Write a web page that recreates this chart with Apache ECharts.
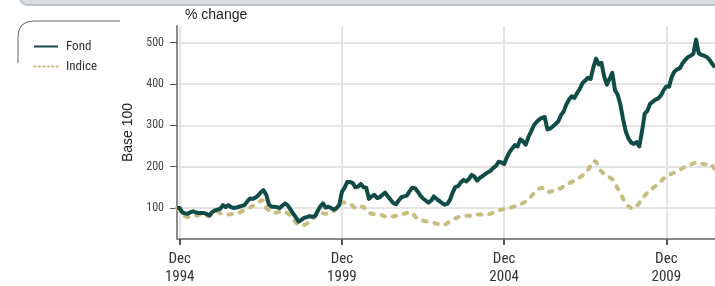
<!DOCTYPE html>
<html>
<head>
<meta charset="utf-8">
<script src="https://cdn.jsdelivr.net/npm/echarts@6/dist/echarts.min.js"></script>
<style>
  html, body { margin: 0; padding: 0; background: #fff; }
  #chart { width: 715px; height: 286px; }
</style>
</head>
<body>
<div id="chart"></div>
<script>
// monthly points, first one is Nov 1994
var startYear = 1994, startMonth = 11;
var fond = [
  100, 100, 89, 87, 86, 90, 92, 89, 88, 88, 88, 85, 82, 90, 94, 96, 98, 107, 102, 107,
  102, 100, 101, 103, 105, 107, 116, 123, 122, 125, 130, 138, 143, 132, 108, 103, 103, 102, 100, 106,
  111, 106, 96, 86, 77, 67, 71, 76, 78, 80, 79, 80, 92, 104, 111, 101, 103, 100, 96, 100,
  107, 139, 149, 163, 163, 160, 150, 152, 158, 150, 149, 122, 128, 132, 124, 126, 132, 137, 128, 120,
  112, 109, 118, 126, 128, 130, 140, 149, 148, 140, 130, 123, 118, 113, 118, 128, 122, 117, 112, 108,
  110, 120, 138, 151, 153, 162, 168, 164, 170, 180, 176, 166, 173, 177, 182, 186, 190, 197, 202, 212,
  210, 206, 222, 235, 244, 252, 249, 266, 261, 253, 272, 285, 300, 308, 314, 318, 320, 290, 292, 297,
  303, 309, 324, 333, 350, 362, 370, 366, 378, 388, 402, 408, 415, 412, 440, 461, 447, 451, 418, 398,
  412, 427, 385, 374, 350, 315, 285, 268, 258, 255, 259, 249, 285, 328, 335, 352, 357, 362, 365, 372,
  385, 394, 393, 417, 430, 435, 438, 450, 458, 465, 468, 473, 507, 474, 470, 468, 465, 458, 448, 440
];
var indice = [
  100, 92, 85, 80, 78, 79, 80, 81, 83, 84, 82, 81, 80, 85, 90, 91, 87, 85, 84, 84,
  85, 86, 87, 89, 92, 95, 98, 101, 105, 108, 112, 118, 118, 100, 94, 90, 88, 89, 91, 92,
  90, 87, 82, 72, 65, 60, 57, 59, 62, 66, 72, 80, 86, 88, 87, 86, 86, 88, 92, 98,
  108, 114, 113, 112, 111, 105, 99, 100, 103, 103, 95, 88, 86, 85, 84, 84, 82, 79, 77, 78,
  80, 81, 83, 85, 86, 88, 90, 89, 80, 74, 71, 69, 68, 67, 66, 64, 62, 60, 59, 59,
  63, 68, 71, 75, 78, 79, 80, 81, 81, 82, 83, 84, 84, 84, 84, 84, 86, 89, 92, 94,
  96, 97, 98, 99, 102, 104, 106, 109, 112, 116, 122, 128, 136, 142, 147, 149, 143, 138, 139, 141,
  143, 145, 148, 152, 156, 160, 163, 167, 171, 174, 179, 185, 192, 203, 214, 212, 197, 188, 182, 179,
  174, 170, 160, 147, 136, 122, 112, 104, 100, 98, 104, 112, 122, 130, 137, 143, 148, 153, 159, 165,
  171, 177, 180, 183, 185, 188, 192, 196, 200, 202, 205, 208, 210, 210, 207, 206, 206, 208, 202, 194
];
var tickMonths = ['1994-12', '1999-12', '2004-12', '2009-12'];
var yTicks = [100, 200, 300, 400, 500];

var months = [];
for (var i = 0; i < fond.length; i++) {
  var m = startMonth - 1 + i;
  var y = startYear + Math.floor(m / 12);
  var mm = (m % 12) + 1;
  months.push(y + '-' + (mm < 10 ? '0' + mm : mm));
}
function isTick(idx, val) { return tickMonths.indexOf(val) >= 0; }

var narrow = '"Liberation Sans Narrow", "Roboto Condensed", Roboto, sans-serif';
var boxLine = { stroke: '#666', lineWidth: 1, fill: 'none' };
var chart = echarts.init(document.getElementById('chart'), null, { renderer: 'canvas' });
var option = {
  backgroundColor: '#ffffff',
  animation: false,
  grid: { left: 177, right: 0, top: 26, bottom: 35 },
  legend: {
    orient: 'vertical',
    left: 28, top: 35,
    itemWidth: 24, itemHeight: 10, itemGap: 7,
    itemStyle: { opacity: 0 },
    textStyle: { fontFamily: narrow, fontSize: 13, color: '#333', padding: [0, 0, 0, 3] },
    data: [
      { name: 'Fond', lineStyle: { width: 2 } },
      { name: 'Indice', lineStyle: { width: 2, type: [1.5, 3] } }
    ]
  },
  graphic: [
    { type: 'rect', shape: { x: 20, y: -10, width: 710, height: 15, r: 8 },
      style: { fill: '#dadde0', stroke: '#aeb4b9', lineWidth: 1.5 } },
    { type: 'line', shape: { x1: 34, y1: 21, x2: 120, y2: 21 }, style: boxLine },
    { type: 'line', shape: { x1: 18, y1: 37, x2: 18, y2: 63 }, style: boxLine },
    { type: 'bezierCurve', shape: { x1: 18, y1: 37, cpx1: 18, cpy1: 21, x2: 34, y2: 21 }, style: boxLine },
    { type: 'text', x: 185, y: 8,
      style: { text: '% change', font: '14px "Liberation Sans", Arial, sans-serif', fill: '#222' } }
  ],
  xAxis: {
    type: 'category',
    data: months,
    boundaryGap: false,
    axisLine: { show: true, lineStyle: { color: '#8a8a8a', width: 2 } },
    axisTick: { show: true, interval: isTick, length: 6, lineStyle: { color: '#555', width: 2 } },
    axisLabel: {
      interval: isTick, margin: 11,
      fontFamily: narrow, fontSize: 15, lineHeight: 18, color: '#333',
      formatter: function (v) { return 'Dec\n' + v.slice(0, 4); }
    },
    splitLine: { show: true, interval: isTick, lineStyle: { color: '#e4e4e4', width: 2 } }
  },
  yAxis: {
    type: 'value',
    min: 25, max: 540,
    name: 'Base 100',
    nameLocation: 'middle',
    nameRotate: 90,
    nameGap: 36,
    nameTextStyle: { fontFamily: '"Liberation Sans", Arial, sans-serif', fontSize: 14, color: '#222' },
    axisLine: { show: true, lineStyle: { color: '#8a8a8a', width: 2 } },
    axisTick: { show: true, customValues: yTicks, length: 7, lineStyle: { color: '#555', width: 1 } },
    axisLabel: { customValues: yTicks, margin: 13, fontFamily: narrow, fontSize: 12, color: '#444' },
    splitLine: { show: true, lineStyle: { color: '#e4e4e4', width: 2 } }
  },
  series: [
    {
      name: 'Indice', type: 'line', data: indice, symbol: 'none',
      lineStyle: { color: '#c7bd80', width: 4, type: [3.5, 8], cap: 'round' },
      itemStyle: { color: '#c7bd80' }
    },
    {
      name: 'Fond', type: 'line', data: fond, symbol: 'none',
      lineStyle: { color: '#0f4c48', width: 4, join: 'round' },
      itemStyle: { color: '#0f4c48' }
    }
  ]
};
chart.setOption(option);
</script>
</body>
</html>
